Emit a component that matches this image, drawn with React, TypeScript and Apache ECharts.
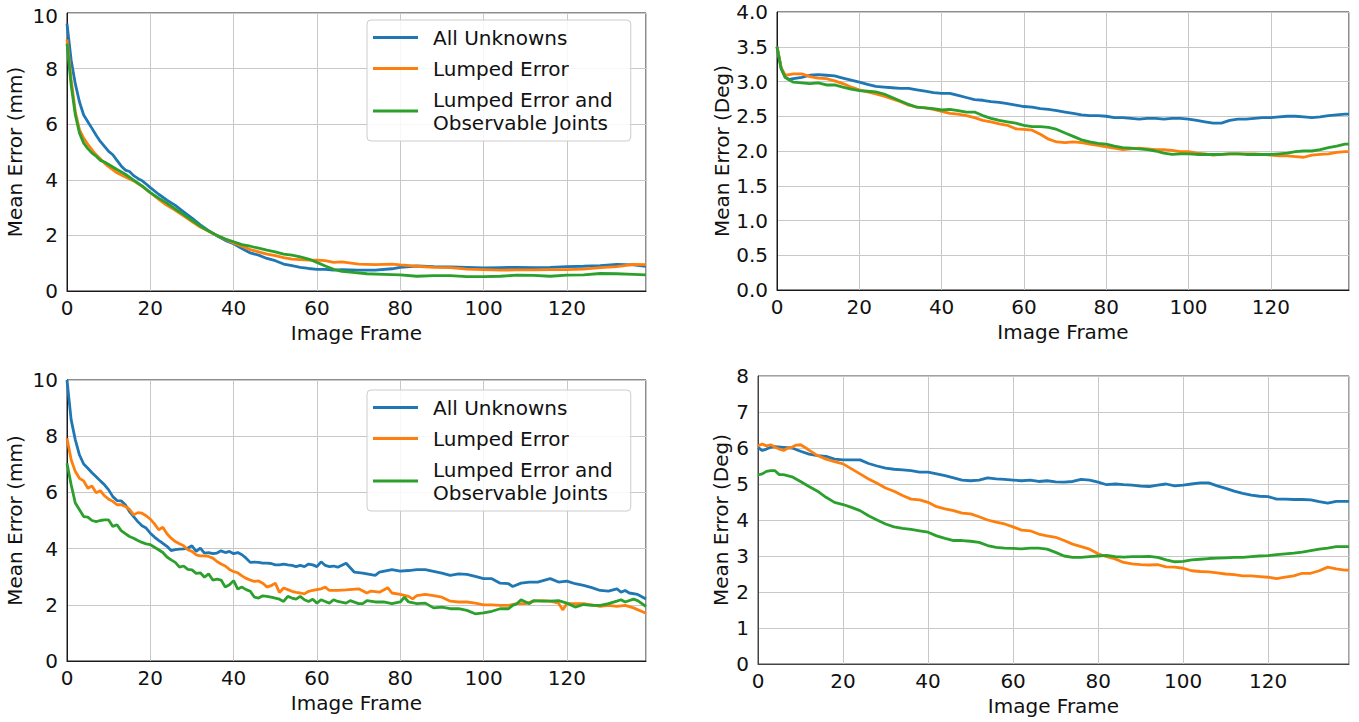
import React, { useEffect, useRef } from 'react';
import * as echarts from 'echarts';

const FONT = 'DejaVu Sans';
const COLORS = ['#1f77b4', '#ff7f0e', '#2ca02c'];
const NAMES = ['All Unknowns', 'Lumped Error', 'Lumped Error and Observable Joints'];
const X_TICKS = [0, 20, 40, 60, 80, 100, 120];

// ---------- Top-left: Mean Error (mm) ----------
const TL_BLUE_X = [0,1,2,3,4,5,6,7,8,9,10,11,12,13,14,15,16,17,18,19,20,22,24,26,28,30,32,34,36,38,40,42,44,46,48,50,52,54,56,58,60,62,64,66,70,74,78,80,84,88,92,96,100,104,108,112,116,120,124,128,132,136,139];
const TL_BLUE_Y = [9.62,8.3,7.45,6.8,6.33,6.09,5.85,5.6,5.38,5.2,5.02,4.9,4.7,4.5,4.35,4.3,4.15,4.05,3.97,3.85,3.72,
  3.48,3.27,3.08,2.85,2.62,2.38,2.17,1.99,1.82,1.7,1.53,1.37,1.29,1.17,1.09,0.97,0.91,0.85,0.81,0.78,0.78,0.75,
  0.77,0.75,0.75,0.8,
  0.85,0.9,0.88,0.87,0.85,0.83,0.84,0.85,0.84,0.85,0.88,0.89,0.91,0.96,0.94,
  0.89];
const TL_ORANGE_X = [0,1,2,3,4,5,6,7,8,9,10,12,14,16,18,20,22,24,26,28,30,32,34,36,38,40,42,44,46,48,50,52,54,56,58,60,62,64,66,70,74,78,80,84,88,92,96,100,104,108,112,116,120,124,128,132,136,139];
const TL_ORANGE_Y = [9.05,7.6,6.45,5.8,5.5,5.28,5.08,4.9,4.76,4.6,4.47,
  4.25,4.1,3.96,3.77,3.54,3.3,3.08,2.9,2.7,2.5,2.3,2.15,2.0,1.86,1.73,1.61,1.49,1.41,1.33,1.27,1.2,1.15,1.13,1.11,1.11,1.09,1.03,
  1.05,0.97,0.95,0.97,
  0.94,0.89,0.85,0.84,0.79,0.77,0.75,0.76,0.76,0.77,0.77,0.79,0.84,0.88,0.96,
  0.95];
const TL_GREEN_X = [0,1,2,3,4,5,6,7,8,9,10,12,14,16,18,20,22,24,26,28,30,32,34,36,38,40,42,44,46,48,50,52,54,56,58,60,62,64,66,68,72,76,80,84,88,92,96,100,104,108,112,116,120,124,128,132,136,139];
const TL_GREEN_Y = [8.9,7.4,6.33,5.68,5.32,5.12,4.96,4.85,4.7,4.64,4.55,
  4.37,4.2,3.99,3.78,3.54,3.34,3.16,2.95,2.75,2.54,2.33,2.16,2.0,1.87,1.77,1.67,1.61,1.54,1.47,1.41,1.33,1.29,1.23,1.15,1.03,0.9,0.78,
  0.71,0.68,0.62,0.6,
  0.58,0.53,0.55,0.55,0.52,0.52,0.53,0.57,0.56,0.53,0.57,0.58,0.63,0.62,0.6,
  0.58];

// ---------- Top-right: Mean Error (Deg) ----------
const FR2 = [0,1,2,3,4,6,8,10,12,14,16,18,20,22,24,26,28,30,32,34,36,38,40,42,44,46,48,50,52,54,56,58,60,62,64,66,68,70,72,74,76,78,80,82,84,86,88,90,92,94,96,98,100,102,104,106,108,110,112,114,116,118,120,122,124,126,128,130,132,134,136,138,139];
const TR_BLUE_Y = [3.5,3.2,3.06,3.03,3.04,
  3.06,3.09,3.1,3.09,3.08,3.05,3.02,2.99,2.96,2.93,
  2.92,2.91,2.9,2.9,2.88,2.86,2.84,2.83,2.83,2.8,
  2.77,2.74,2.73,2.71,2.7,2.68,2.66,2.64,2.63,2.61,
  2.6,2.58,2.56,2.54,2.52,2.51,2.51,2.5,2.48,2.48,
  2.47,2.46,2.47,2.47,2.46,2.47,2.47,2.46,2.44,2.42,
  2.4,2.4,2.44,2.46,2.46,2.47,2.48,2.48,2.49,2.5,
  2.5,2.49,2.48,2.49,2.51,2.52,2.53,
  2.53];
const TR_ORANGE_Y = [3.5,3.2,3.09,3.1,3.11,
  3.11,3.07,3.05,3.04,3.01,2.97,2.92,2.88,2.85,2.82,
  2.79,2.75,2.71,2.66,2.63,2.62,2.6,2.57,2.54,2.53,
  2.51,2.48,2.44,2.42,2.39,2.37,2.32,2.31,2.3,2.24,
  2.17,2.13,2.12,2.13,2.12,2.1,2.08,2.06,2.04,2.02,
  2.03,2.04,2.03,2.02,2.02,2.01,1.99,1.99,1.97,1.96,
  1.94,1.95,1.96,1.96,1.96,1.96,1.95,1.94,1.93,1.93,
  1.92,1.91,1.94,1.95,1.96,1.98,1.99,
  1.99];
const TR_GREEN_Y = [3.5,3.18,3.06,3.02,2.99,
  2.98,2.97,2.98,2.95,2.95,2.92,2.89,2.87,2.86,2.85,
  2.82,2.77,2.72,2.67,2.63,2.62,2.61,2.59,2.6,2.58,
  2.56,2.56,2.51,2.47,2.44,2.42,2.4,2.37,2.35,2.35,
  2.34,2.31,2.26,2.21,2.16,2.13,2.11,2.1,2.07,2.05,
  2.04,2.03,2.02,2.0,1.97,1.95,1.96,1.96,1.95,1.95,
  1.95,1.95,1.96,1.96,1.95,1.95,1.95,1.95,1.96,1.97,
  1.99,2.0,2.0,2.02,2.05,2.07,2.1,
  2.1];

// ---------- Bottom-left: Mean Error (mm) ----------
const BL_BLUE_X = [0,1,2,3,4,5,6,7,8,9,10,11,12,13,14,15,16,17,18,19,20,21,22,23,24,25,26,27,28,29,30,31,32,33,34,35,36,37,38,39,40,41,42,43,44,45,46,47,48,49,50,51,52,53,54,55,56,57,58,59,60,61,62,63,64,65,
  67,69,71,74,75,78,80,82,84,86,88,90,92,94,96,98,100,102,104,106,107,109,111,113,116,118,120,122,124,126,128,130,132,133,134,135,137,139];
const BL_BLUE_Y = [10.0,8.58,7.87,7.33,7.01,6.86,6.7,6.56,6.41,6.27,
  6.09,5.85,5.71,5.7,5.56,5.32,5.14,4.96,4.81,4.73,
  4.55,4.41,4.29,4.19,4.08,3.93,3.96,3.98,3.99,4.02,
  4.1,3.9,4.02,3.84,3.86,3.82,3.84,3.92,3.86,3.9,
  3.82,3.86,3.78,3.66,3.51,3.52,3.51,3.48,3.48,3.47,
  3.42,3.42,3.45,3.42,3.4,3.36,3.4,3.36,3.45,3.42,
  3.36,3.53,3.4,3.36,3.38,3.34,
  3.48,3.16,3.13,3.05,3.16,3.25,3.2,3.22,3.25,3.25,3.19,3.13,3.05,3.1,3.08,3.01,2.93,2.93,2.77,2.75,2.65,2.77,2.81,2.81,2.93,2.81,2.84,2.75,2.69,2.61,2.51,2.49,2.57,2.45,2.51,2.42,2.37,2.21];
const BL_ORANGE_X = [0,1,2,3,4,5,6,7,8,9,10,11,12,13,14,15,16,17,18,19,20,21,22,23,24,25,26,27,28,29,30,31,32,33,34,35,36,37,38,39,40,41,42,43,44,45,46,47,48,49,50,51,52,53,54,55,56,57,58,59,60,61,62,63,64,65,
  67,70,72,73,75,77,78,80,82,83,84,86,88,90,92,94,96,98,100,102,104,106,108,110,112,114,116,118,119,120,122,124,126,128,130,132,134,136,139];
const BL_ORANGE_Y = [7.93,7.16,6.74,6.5,6.41,6.15,6.23,5.99,6.06,5.88,
  5.76,5.68,5.56,5.56,5.5,5.4,5.2,5.28,5.26,5.17,
  5.05,4.88,4.67,4.76,4.53,4.37,4.25,4.17,4.1,3.96,
  3.9,3.78,3.74,3.74,3.72,3.66,3.54,3.45,3.38,3.26,
  3.18,3.14,3.03,2.94,2.88,2.83,2.85,2.77,2.63,2.68,
  2.77,2.44,2.6,2.54,2.48,2.44,2.42,2.39,2.48,2.51,
  2.54,2.57,2.63,2.51,2.51,2.51,
  2.53,2.57,2.42,2.49,2.45,2.61,2.42,2.37,2.3,2.21,
  2.33,2.37,2.33,2.27,2.13,2.1,2.1,2.06,2.0,2.0,
  1.98,1.98,2.04,2.04,2.13,2.15,2.13,2.06,1.82,2.04,
  2.04,2.04,2.0,1.94,1.98,1.94,1.98,1.89,1.7];
const BL_GREEN_X = [0,1,2,3,4,5,6,7,8,9,10,11,12,13,14,15,16,17,18,19,20,21,22,23,24,25,26,27,28,29,30,31,32,33,34,35,36,37,38,39,40,41,42,43,44,45,46,47,48,49,50,51,52,53,54,55,56,57,58,59,60,61,62,63,64,65,
  67,68,70,71,72,74,76,78,80,81,82,84,86,88,90,92,94,96,98,100,102,104,106,107,108,109,111,112,114,116,118,120,122,124,126,128,130,132,133,134,136,137,139];
const BL_GREEN_Y = [7.04,6.27,5.62,5.38,5.14,5.12,5.0,4.96,5.0,5.02,
  5.02,4.79,4.85,4.64,4.53,4.43,4.37,4.29,4.22,4.17,
  4.14,4.05,3.96,3.86,3.7,3.6,3.51,3.34,3.38,3.26,
  3.24,3.12,3.14,2.98,3.1,2.88,2.91,2.88,2.63,2.71,
  2.86,2.56,2.63,2.54,2.48,2.27,2.24,2.32,2.3,2.27,
  2.24,2.2,2.12,2.3,2.24,2.2,2.3,2.18,2.12,2.2,
  2.06,2.18,2.12,2.06,2.18,2.12,
  2.06,2.15,2.04,2.04,2.15,2.1,2.1,2.04,2.1,2.27,
  2.1,2.04,2.06,1.89,1.92,1.86,1.86,1.8,1.68,1.71,
  1.77,1.86,1.86,1.98,2.04,2.18,2.04,2.15,2.13,2.13,
  2.15,2.06,1.92,2.01,1.98,1.98,2.04,2.13,2.18,2.1,
  2.2,2.15,1.94];

// ---------- Bottom-right: Mean Error (Deg) ----------
const BR_BLUE_Y = [6.02,5.93,5.97,6.02,6.04,
  6.02,6.0,5.91,5.83,5.79,5.77,5.69,5.67,5.67,5.67,
  5.57,5.5,5.44,5.41,5.39,5.37,5.33,5.33,5.28,5.23,
  5.17,5.11,5.09,5.11,5.17,5.14,5.13,5.11,5.09,5.11,
  5.07,5.09,5.06,5.05,5.07,5.13,5.11,5.05,4.98,5.0,
  4.98,4.97,4.94,4.93,4.97,5.0,4.95,4.97,5.0,5.03,
  5.03,4.95,4.88,4.8,4.74,4.69,4.66,4.65,4.58,4.58,
  4.57,4.57,4.56,4.51,4.47,4.52,4.52,
  4.52];
const BR_ORANGE_X = [0,1,2,3,4,5,6,7,8,9,10,11,12,14,16,18,20,22,24,26,28,30,32,34,36,38,40,42,44,46,48,50,52,54,56,58,60,62,64,66,68,70,72,74,76,78,80,82,84,86,88,90,92,94,96,98,100,102,104,106,108,110,112,114,116,118,120,122,124,126,128,130,132,134,136,138,139];
const BR_ORANGE_Y = [6.06,6.11,6.06,6.09,6.02,5.97,5.93,6.0,6.02,6.08,6.09,6.02,5.94,
  5.79,5.69,5.62,5.56,5.42,5.28,5.14,5.02,4.89,4.8,
  4.68,4.58,4.56,4.49,4.37,4.31,4.26,4.19,4.17,4.09,
  4.0,3.94,3.89,3.81,3.72,3.7,3.61,3.56,3.52,3.43,
  3.33,3.26,3.19,3.06,2.98,2.92,2.82,2.78,2.76,2.75,
  2.76,2.7,2.69,2.66,2.59,2.57,2.56,2.53,2.5,2.48,
  2.45,2.45,2.43,2.41,2.37,2.41,2.45,2.52,2.52,2.59,
  2.69,2.64,2.61,
  2.61];
const BR_GREEN_X = [0,1,2,3,4,5,6,8,10,12,14,16,18,20,22,24,26,28,30,32,34,36,38,40,42,44,46,48,50,52,54,56,58,60,62,64,66,68,70,72,74,76,78,80,82,84,86,88,90,92,94,96,98,100,102,104,106,108,110,112,114,116,118,120,122,124,126,128,130,132,134,136,138,139];
const BR_GREEN_Y = [5.25,5.28,5.35,5.37,5.37,5.26,5.26,
  5.2,5.07,4.93,4.8,4.63,4.49,4.43,4.35,4.26,4.12,
  4.0,3.89,3.81,3.77,3.74,3.7,3.66,3.56,3.49,3.43,
  3.43,3.41,3.38,3.29,3.24,3.22,3.21,3.2,3.22,3.22,
  3.19,3.1,3.0,2.96,2.96,2.98,3.0,3.02,2.98,2.97,
  2.98,2.98,2.99,2.96,2.89,2.84,2.85,2.89,2.91,2.93,
  2.94,2.95,2.96,2.96,2.98,3.0,3.01,3.04,3.06,3.08,
  3.11,3.15,3.19,3.22,3.26,3.26,
  3.26];

const pairs = (xs: number[], ys: number[]) => {
  const n = Math.min(xs.length, ys.length);
  const out: number[][] = [];
  for (let i = 0; i < n; i++) out.push([xs[i], ys[i]]);
  return out;
};

const PANELS = [
  { grid: { left: 67, top: 10, width: 579, height: 281 }, border: '#1a1a1a', yName: 'Mean Error (mm)', yMax: 10, yInt: 2, dec: 0, nameGap: 42, nudgeTop: true,
    series: [pairs(TL_BLUE_X, TL_BLUE_Y), pairs(TL_ORANGE_X, TL_ORANGE_Y), pairs(TL_GREEN_X, TL_GREEN_Y)] },
  { grid: { left: 777, top: 12, width: 572, height: 278 }, border: '#1a1a1a', yName: 'Mean Error (Deg)', yMax: 4, yInt: 0.5, dec: 1, nameGap: 45, nudgeTop: false,
    series: [pairs(FR2, TR_BLUE_Y), pairs(FR2, TR_ORANGE_Y), pairs(FR2, TR_GREEN_Y)] },
  { grid: { left: 67, top: 380, width: 579, height: 281 }, border: '#1a1a1a', yName: 'Mean Error (mm)', yMax: 10, yInt: 2, dec: 0, nameGap: 42, nudgeTop: false,
    series: [pairs(BL_BLUE_X, BL_BLUE_Y), pairs(BL_ORANGE_X, BL_ORANGE_Y), pairs(BL_GREEN_X, BL_GREEN_Y)] },
  { grid: { left: 758, top: 376, width: 591, height: 288 }, border: '#444444', yName: 'Mean Error (Deg)', yMax: 8, yInt: 1, dec: 0, nameGap: 27, nudgeTop: false,
    series: [pairs(FR2, BR_BLUE_Y), pairs(BR_ORANGE_X, BR_ORANGE_Y), pairs(BR_GREEN_X, BR_GREEN_Y)] },
];

const textBase = { fontFamily: FONT, fontSize: 20, color: '#111111' };

function buildOption() {
  const grid = PANELS.map((p) => ({ ...p.grid, show: true, borderColor: p.border, borderWidth: 1, containLabel: false }));
  const xAxis = PANELS.map((p, i) => ({
    type: 'value', gridIndex: i, min: 0, max: 139, interval: 20,
    name: 'Image Frame', nameLocation: 'middle', nameGap: 32, nameTextStyle: { ...textBase },
    axisLine: { show: true, onZero: false, lineStyle: { color: p.border, width: 1 } },
    axisTick: { show: false },
    axisLabel: { ...textBase, margin: 7, showMaxLabel: false,
      formatter: (v: number) => (X_TICKS.indexOf(v) >= 0 ? String(v) : '') },
    splitLine: { show: true, lineStyle: { color: '#c8c8c8', width: 1 } },
  }));
  const yAxis = PANELS.map((p, i) => ({
    type: 'value', gridIndex: i, min: 0, max: p.yMax, interval: p.yInt,
    name: p.yName, nameLocation: 'middle', nameGap: p.nameGap, nameTextStyle: { ...textBase },
    axisLine: { show: true, onZero: false, lineStyle: { color: p.border, width: 1 } },
    axisTick: { show: false },
    axisLabel: {
      ...textBase, margin: 9, lineHeight: 16,
      formatter: (v: number) => {
        const s = v.toFixed(p.dec);
        return p.nudgeTop && v === p.yMax ? `{t|${s}}` : s;
      },
      rich: { t: { ...textBase, lineHeight: 16, padding: [6, 0, 0, 0] } },
    },
    splitLine: { show: true, lineStyle: { color: '#c8c8c8', width: 1 } },
  }));
  const series: any[] = [];
  PANELS.forEach((p, i) => {
    p.series.forEach((data, k) => {
      series.push({
        type: 'line', name: NAMES[k], xAxisIndex: i, yAxisIndex: i, data,
        showSymbol: false, symbol: 'none', smooth: false,
        lineStyle: { width: 2.8, color: COLORS[k] }, itemStyle: { color: COLORS[k] },
        z: 2 + k,
      });
    });
  });
  const legendBase = {
    orient: 'vertical', left: 367, data: NAMES, icon: 'rect', itemWidth: 45, itemHeight: 3, itemGap: 8,
    padding: [6, 18, 7, 6], borderColor: '#cccccc', borderWidth: 1, borderRadius: 4,
    backgroundColor: 'rgba(255,255,255,0.85)',
    textStyle: { ...textBase, lineHeight: 23, padding: [0, 0, 0, 10] },
    formatter: (n: string) => (n === NAMES[2] ? 'Lumped Error and\nObservable Joints' : n),
    selectedMode: false,
  };
  return {
    animation: false,
    backgroundColor: '#ffffff',
    grid, xAxis, yAxis, series,
    legend: [{ ...legendBase, top: 20 }, { ...legendBase, top: 390 }],
  };
}

export default function App() {
  const ref = useRef<HTMLDivElement>(null);
  useEffect(() => {
    if (!ref.current) return;
    const chart = echarts.init(ref.current, null, { renderer: 'svg' });
    chart.setOption(buildOption() as any);
    return () => chart.dispose();
  }, []);
  return <div ref={ref} style={{ position: 'absolute', left: 0, top: 0, width: 1359, height: 722 }} />;
}
